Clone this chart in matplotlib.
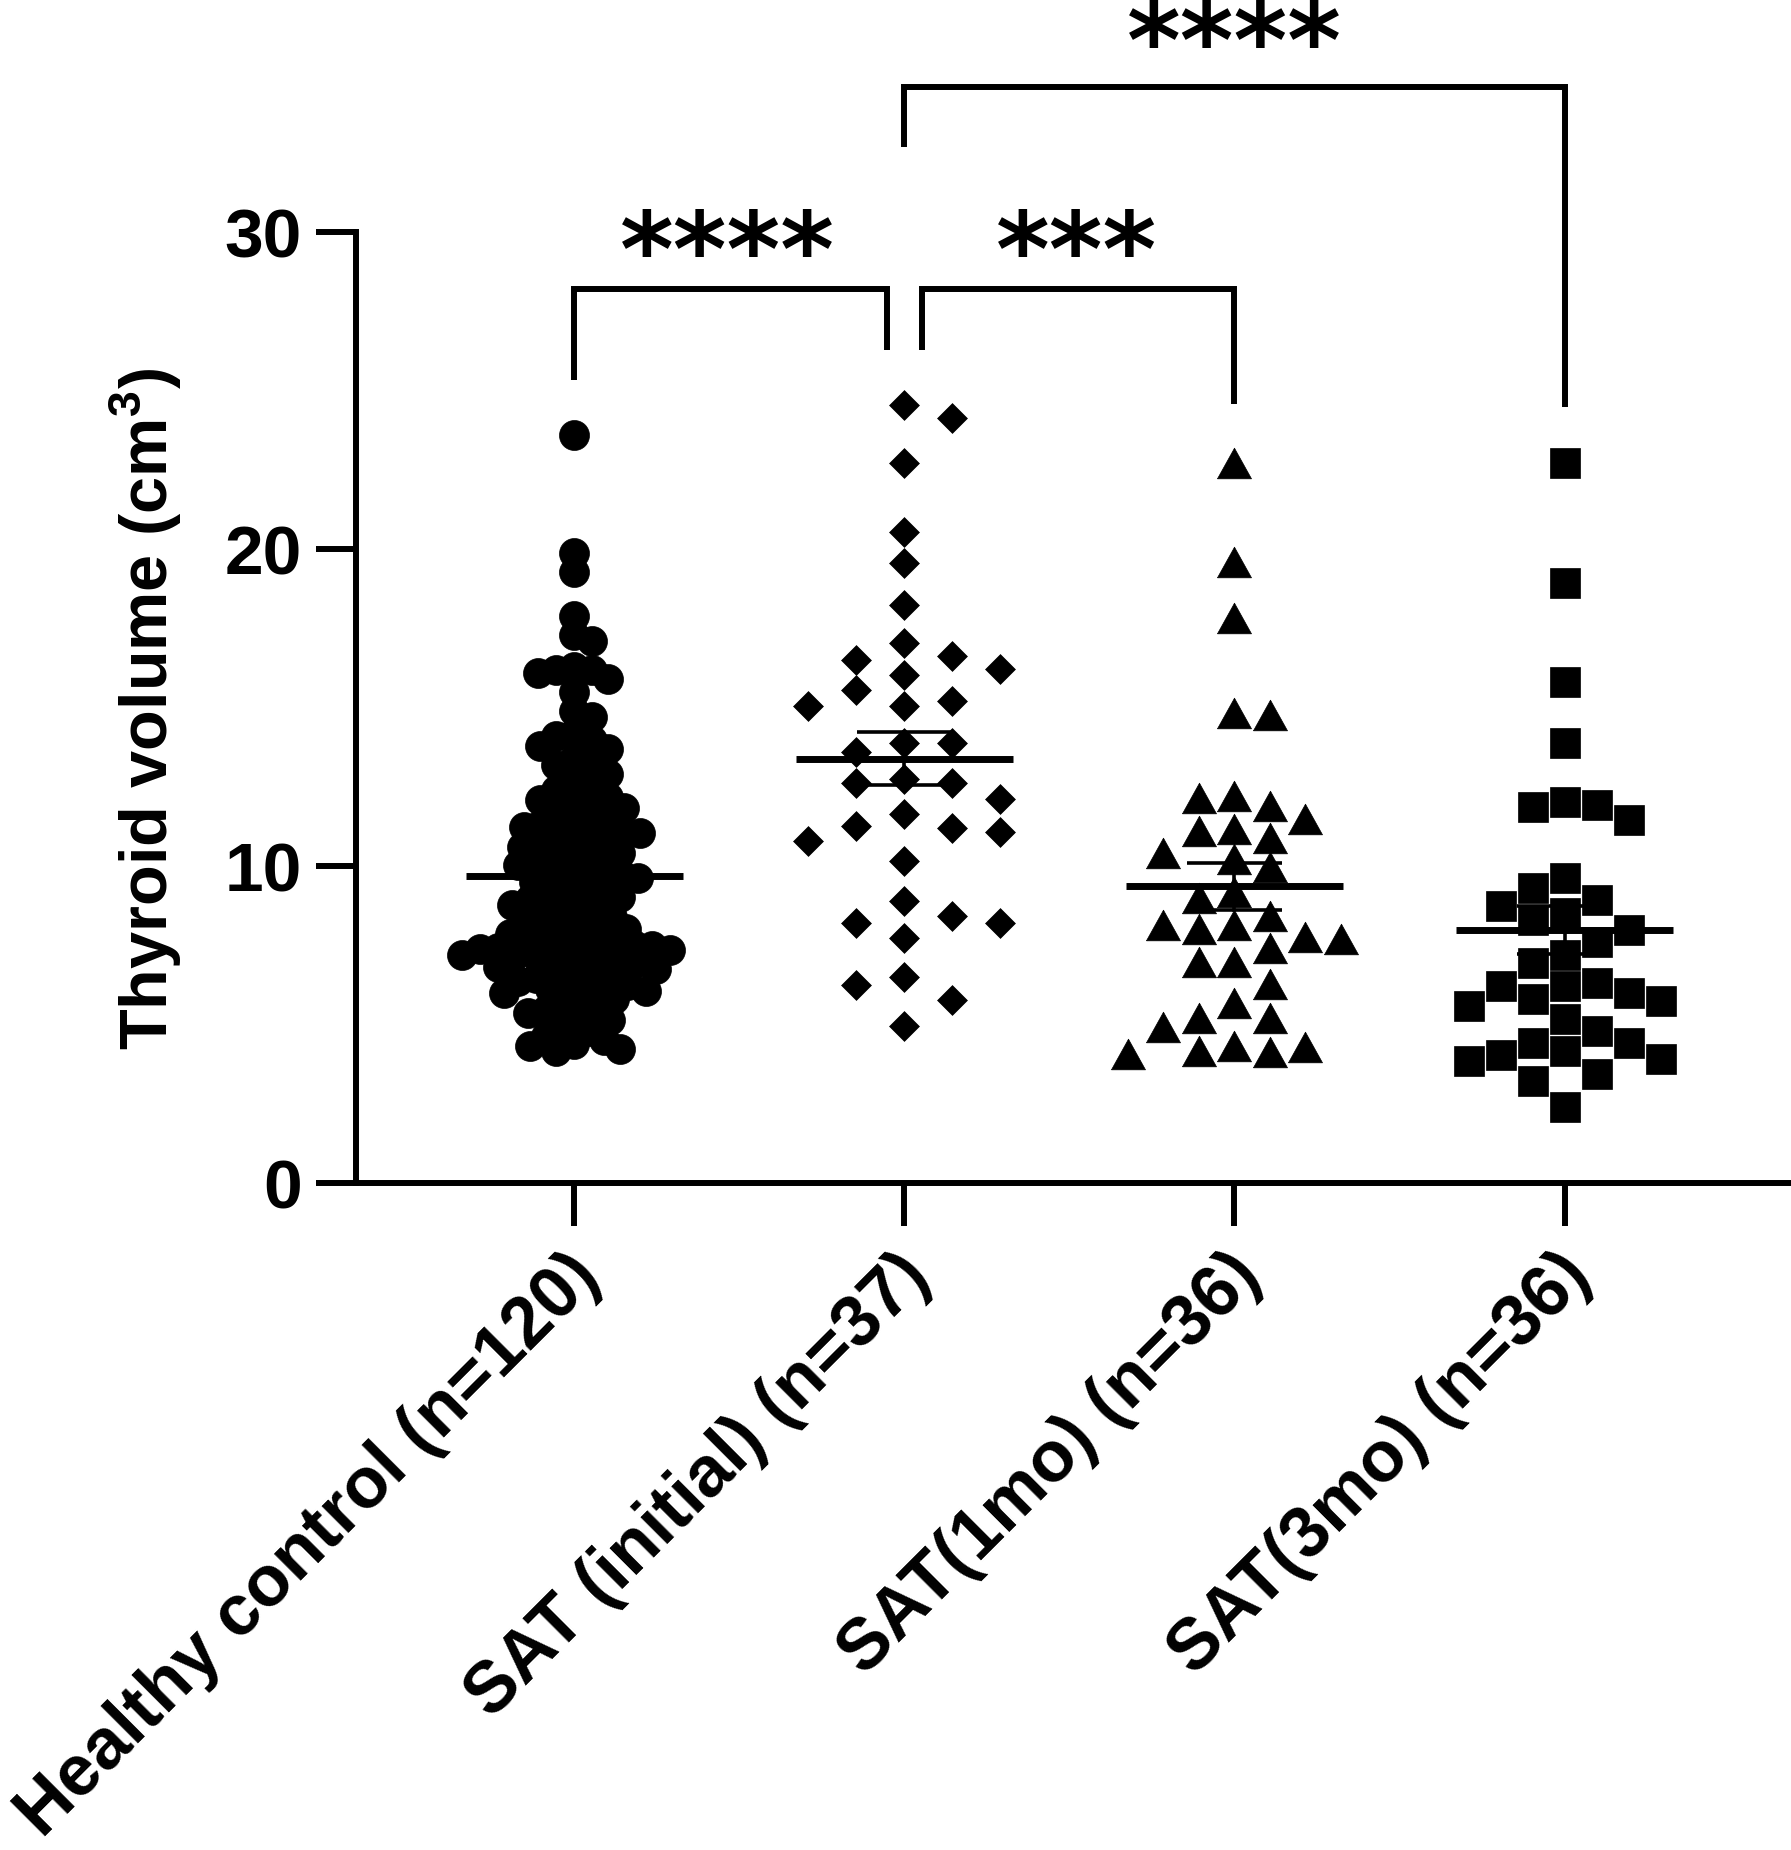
import numpy as np
import matplotlib
matplotlib.use("Agg")
import matplotlib.pyplot as plt
from matplotlib.transforms import ScaledTranslation

plt.rcParams['font.family'] = ['Liberation Sans', 'DejaVu Sans']
plt.rcParams['font.weight'] = 'bold'
plt.rcParams['mathtext.fontset'] = 'custom'
plt.rcParams['mathtext.rm'] = 'Liberation Sans:bold'
plt.rcParams['mathtext.bf'] = 'Liberation Sans:bold'

# ---------------- data ----------------
categories = ['Healthy control (n=120)', 'SAT (initial) (n=37)',
              'SAT(1mo) (n=36)', 'SAT(3mo) (n=36)']

healthy_control = [
    23.6, 19.9, 19.3, 17.9, 17.3, 17.1, 16.3, 16.2, 16.2, 16.1,
    15.9, 15.5, 14.9, 14.7, 14.2, 14.1, 14.0, 13.8, 13.7, 13.4, 13.2, 13.1, 12.9,
    12.6, 12.4, 12.3, 12.2, 12.1, 12.0,
    11.85, 11.72, 11.61, 11.47, 11.38, 11.30, 11.24, 11.13, 11.06, 10.97,
    10.88, 10.79, 10.71, 10.62, 10.55, 10.43, 10.34, 10.26, 10.15, 10.05,
    9.94, 9.86, 9.78, 9.71, 9.63, 9.52, 9.44, 9.33, 9.24, 9.13, 9.04,
    8.96, 8.87, 8.78, 8.69, 8.58, 8.49, 8.40, 8.31, 8.22, 8.13, 8.04,
    7.95, 7.88, 7.81, 7.74, 7.66, 7.59, 7.53, 7.48, 7.44, 7.41, 7.38, 7.35,
    7.31, 7.27, 7.22, 7.16, 7.11, 7.04, 6.97, 6.91, 6.84, 6.77, 6.71, 6.63,
    6.55, 6.48, 6.40, 6.33, 6.26, 6.19, 6.12, 6.06, 6.02,
    5.93, 5.81, 5.68, 5.57, 5.46, 5.38, 5.29, 5.17, 4.96, 4.81, 4.66, 4.52,
    4.41, 4.33, 4.24, 4.18,
]

sat_initial = [
    24.56, 24.15, 22.74, 20.54, 19.58, 18.24, 17.05, 16.05, 16.23, 15.22, 15.07,
    16.52, 15.56, 16.64, 15.07, 13.62, 13.88, 13.88, 12.62, 12.77, 12.62, 12.13,
    11.20, 11.65, 11.09, 11.28, 10.79, 10.16, 8.90, 8.22, 8.22, 8.45, 7.74,
    6.51, 6.25, 5.77, 4.95,
]

sat_1mo = [
    22.74, 19.61, 17.85, 14.83, 14.79, 11.90, 12.15, 12.21, 10.89, 11.17, 11.13,
    11.50, 10.43, 10.23, 9.97, 9.00, 9.19, 8.15, 8.44, 8.02, 7.72, 8.15, 7.76,
    7.43, 6.98, 6.98, 6.30, 5.68, 5.22, 4.93, 5.22, 4.14, 4.18, 4.33, 4.07, 4.31,
]

sat_3mo = [
    22.74, 18.95, 15.83, 13.88, 11.86, 12.03, 11.94, 11.47, 9.63, 9.33, 8.94,
    8.74, 8.00, 8.32, 8.53, 7.61, 7.19, 6.94, 6.32, 5.82, 6.24, 5.18, 5.60,
    6.24, 5.75, 4.80, 6.00, 4.42, 4.06, 4.42, 3.46, 3.92, 4.17, 3.24, 3.86, 2.41,
]

groups = [healthy_control, sat_initial, sat_1mo, sat_3mo]

# significance brackets: (x_left, x_right, y_top, y_left_end, y_right_end, label, label_x, label_y)
brackets = [
    (0.0, 0.947, 28.2, 25.35, 26.3, '****', 0.465, 30.07),
    (1.055, 2.0, 28.2, 26.3, 24.6, '***', 1.523, 30.07),
    (1.0, 3.0, 34.6, 32.7, 24.5, '****', 2.0, 36.66),
]

# ---------------- figure ----------------
W, H = 1791, 1850
fig = plt.figure(figsize=(W / 100, H / 100), dpi=100)
ax = fig.add_axes([356 / W, 1 - 1183.4 / H, (W - 356) / W, (1183.4 - 232.4) / H])
ax.set_xlim(-0.661, 3.686)
ax.set_ylim(0, 30)

for s in ['top', 'right']:
    ax.spines[s].set_visible(False)
for s in ['left', 'bottom']:
    ax.spines[s].set_linewidth(4.3)
    ax.spines[s].set_capstyle('projecting')

ax.set_yticks([0, 10, 20, 30])
ax.tick_params(axis='y', length=29, width=4.3, pad=10, labelsize=50)
ax.set_xticks(range(len(categories)))
ax.set_xticklabels(categories, rotation=45, ha='right', va='center',
                   rotation_mode='anchor', fontsize=51.5, fontweight='bold')
ax.tick_params(axis='x', length=31, width=4.3, pad=28)
for lab in ax.get_xticklabels():
    lab.set_transform(lab.get_transform() + ScaledTranslation(11 / 72, 0, fig.dpi_scale_trans))
for lab in ax.get_yticklabels():
    lab.set_fontweight('bold')

fig.text(146 / W, 1 - 709 / H, r'Thyroid volume (cm$^{3}$)', rotation=90,
         ha='center', va='center', fontsize=48, fontweight='bold')

# pixel scales
px_per_x = ax.bbox.width / (3.686 + 0.661)
px_per_y = ax.bbox.height / 30.0


def swarm(vals, col_px, h_px, step_px, mode):
    vals = np.asarray(vals, dtype=float)
    ys = vals * px_per_y
    order = np.argsort(-vals, kind='stable')
    xs = np.zeros(len(vals))
    placed = []

    def free(c, y):
        for (px, py) in placed:
            if mode == 'grid':
                if abs(c - px) < col_px - 1e-6 and abs(y - py) < h_px:
                    return False
            else:
                if ((c - px) / col_px) ** 2 + ((y - py) / h_px) ** 2 < 1:
                    return False
        return True

    for i in order:
        y = ys[i]
        best = None
        for k in range(0, 2000):
            if k == 0:
                if free(0.0, y):
                    best = 0.0
                    break
                continue
            c = k * step_px
            fp, fn = free(c, y), free(-c, y)
            if fp and fn:
                near = [p[0] for p in placed if abs(p[1] - y) < 3 * h_px]
                npos = sum(1 for v in near if v > 0)
                nneg = sum(1 for v in near if v < 0)
                best = -c if npos > nneg else c
                break
            if fp:
                best = c
                break
            if fn:
                best = -c
                break
        xs[i] = best
        placed.append((best, y))
    return xs / px_per_x


markers = [
    dict(marker='o', ms=21.6),
    dict(marker=[(-1, 0), (0, 1), (1, 0), (0, -1), (-1, 0)], ms=21.5),
    dict(marker=[(-1, -0.9), (1, -0.9), (0, 0.9), (-1, -0.9)], ms=24.5),
    dict(marker='s', ms=21.6),
]
layout = [
    dict(col_px=18, h_px=18, step_px=2, mode='ellipse'),
    dict(col_px=48, h_px=29, step_px=24, mode='grid'),
    dict(col_px=35.5, h_px=29, step_px=17.75, mode='grid'),
    dict(col_px=32, h_px=30, step_px=16, mode='grid'),
]

for gi, (vals, mk, lay) in enumerate(zip(groups, markers, layout)):
    vals = np.asarray(vals, dtype=float)
    xo = swarm(vals, **lay)
    ax.plot(gi + xo, vals, linestyle='none', marker=mk['marker'], markersize=mk['ms'],
            markerfacecolor='black', markeredgecolor='black', markeredgewidth=0.5,
            clip_on=False, zorder=3)
    m = vals.mean()
    sem = vals.std(ddof=1) / np.sqrt(len(vals))
    ax.plot([gi - 0.329, gi + 0.329], [m, m], color='black', lw=5, zorder=4,
            solid_capstyle='butt')
    ax.plot([gi, gi], [m - sem, m + sem], color='black', lw=2.6, zorder=4)
    for yy in (m - sem, m + sem):
        ax.plot([gi - 0.143, gi + 0.143], [yy, yy], color='black', lw=2.6, zorder=4,
                solid_capstyle='butt')

for (x0, x1, yt, yl, yr, lab, lx, ly) in brackets:
    ax.plot([x0, x0, x1, x1], [yl, yt, yt, yr], color='black', lw=4.3,
            clip_on=False, solid_joinstyle='miter', solid_capstyle='butt', zorder=5)
    fs = 74
    off = ScaledTranslation(0, -0.54 * fs / 72, fig.dpi_scale_trans)
    ax.text(lx, ly, lab, ha='center', va='baseline', fontsize=fs,
            family='DejaVu Sans', fontweight='bold', clip_on=False,
            transform=ax.transData + off)

fig.savefig('out.png', dpi=100)
